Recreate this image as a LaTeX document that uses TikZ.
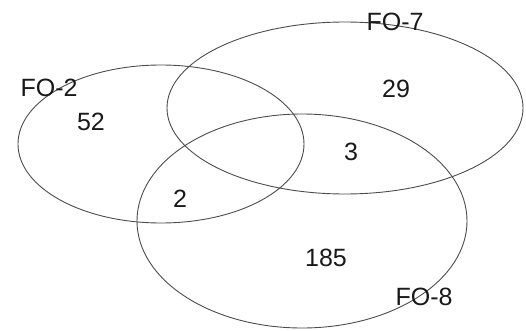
\documentclass[tikz,border=0pt]{standalone}
\usepackage{fontspec}
\setmainfont{Liberation Sans}
\begin{document}
\begin{tikzpicture}[x=1pt,y=-1pt,
  setline/.style={draw=black!70,line width=0.9pt},
  lbl/.style={font=\fontsize{25}{25}\selectfont,text=black!90,inner sep=0pt,anchor=center}]
\useasboundingbox (0,0) rectangle (526,331);
\draw[setline] (161,144) ellipse [x radius=143, y radius=79];
\draw[setline] (345,108) ellipse [x radius=178, y radius=86];
\draw[setline] (302,221) ellipse [x radius=165, y radius=107];
\node[lbl] (fo2) at (49,88) {FO-2};
\node[lbl] (fo7) at (395,22) {FO-7};
\node[lbl] (fo8) at (424,297) {FO-8};
\node[lbl] (n52) at (91,122) {52};
\node[lbl] (n29) at (396,89) {29};
\node[lbl] (n3) at (351,152) {3};
\node[lbl] (n2) at (180,199) {2};
\node[lbl] (n185) at (326,258) {185};
\end{tikzpicture}
\end{document}
